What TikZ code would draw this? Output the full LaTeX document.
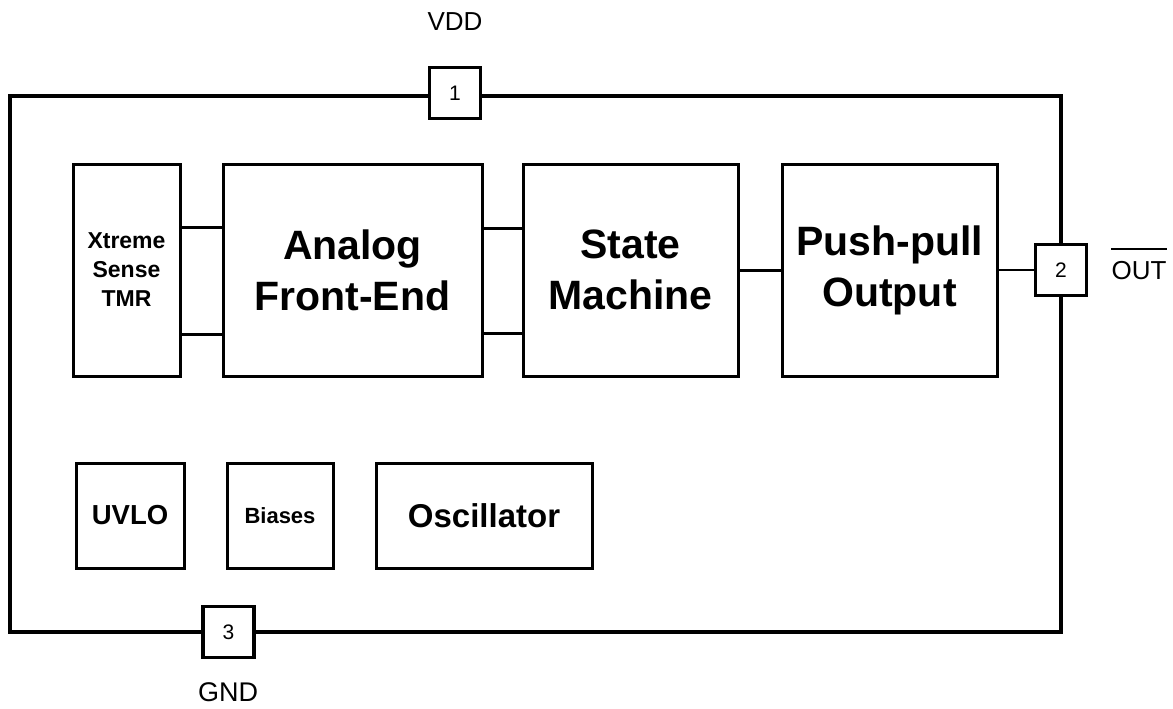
\documentclass[tikz,border=0pt]{standalone}
\usepackage{fontspec}
\setmainfont{Liberation Sans}
\begin{document}
\begin{tikzpicture}[x=1pt,y=-1pt,
  block/.style={draw, line width=3pt, align=center, inner sep=0pt, font=\bfseries},
  bigtext/.style={font=\bfseries\fontsize{41}{51}\selectfont},
  pinbox/.style={draw, line width=3.5pt, fill=white, minimum width=51pt, minimum height=51pt,
    inner sep=0pt, font=\fontsize{21}{24}\selectfont},
  pinlabel/.style={inner sep=0pt, font=\fontsize{26}{30}\selectfont},
  link/.style={line width=3pt}]
\useasboundingbox (0,0) rectangle (1173,709);

% package outline
\node[draw, line width=4pt, minimum width=1051pt, minimum height=536pt, inner sep=0pt]
  (chip) at (535.5,364) {};

% signal path blocks
\node[block, minimum width=107pt, minimum height=212pt,
  font=\bfseries\fontsize{23}{29}\selectfont] (tmr) at (126.5,270) {Xtreme\\Sense\\TMR};
\node[block, bigtext, minimum width=259pt, minimum height=212pt] (afe) at (352.5,270) {Analog\\Front-End};
\node[block, bigtext, minimum width=215pt, minimum height=212pt] (sm) at (630.5,270) {State\\Machine};
\node[block, bigtext, minimum width=215pt, minimum height=212pt] (ppo) at (889.5,270) {Push-pull\\Output};

% support blocks
\node[block, minimum width=108pt, minimum height=105pt,
  font=\bfseries\fontsize{27.5}{32}\selectfont] (uvlo) at (130,515.5) {UVLO};
\node[block, minimum width=106pt, minimum height=105pt,
  font=\bfseries\fontsize{22}{26}\selectfont] (bias) at (280,515.5) {Biases};
\node[block, minimum width=216pt, minimum height=105pt,
  font=\bfseries\fontsize{33}{38}\selectfont] (osc) at (484,515.5) {Oscillator};

% connections between blocks
\draw[link] ([yshift=43pt]tmr.east) -- ([yshift=43pt]afe.west);
\draw[link] ([yshift=-64pt]tmr.east) -- ([yshift=-64pt]afe.west);
\draw[link] ([yshift=42pt]afe.east) -- ([yshift=42pt]sm.west);
\draw[link] ([yshift=-63pt]afe.east) -- ([yshift=-63pt]sm.west);
\draw[link] (sm.east) -- (ppo.west);

% pins
\node[pinbox] (p1) at (455,93) {1};
\node[pinbox] (p2) at (1061,270) {2};
\node[pinbox] (p3) at (228.5,632) {3};
\draw[line width=2.5pt] (ppo.east) -- (p2.west);

% pin names
\node[pinlabel] (vdd) at (455,22) {VDD};
\node[pinlabel, font=\fontsize{27}{30}\selectfont] (gnd) at (228,692) {GND};
\node[pinlabel] (out) at (1139,271) {OUT};
\draw[line width=2pt] ([yshift=13pt]out.north west) -- ([yshift=13pt]out.north east);
\end{tikzpicture}
\end{document}
